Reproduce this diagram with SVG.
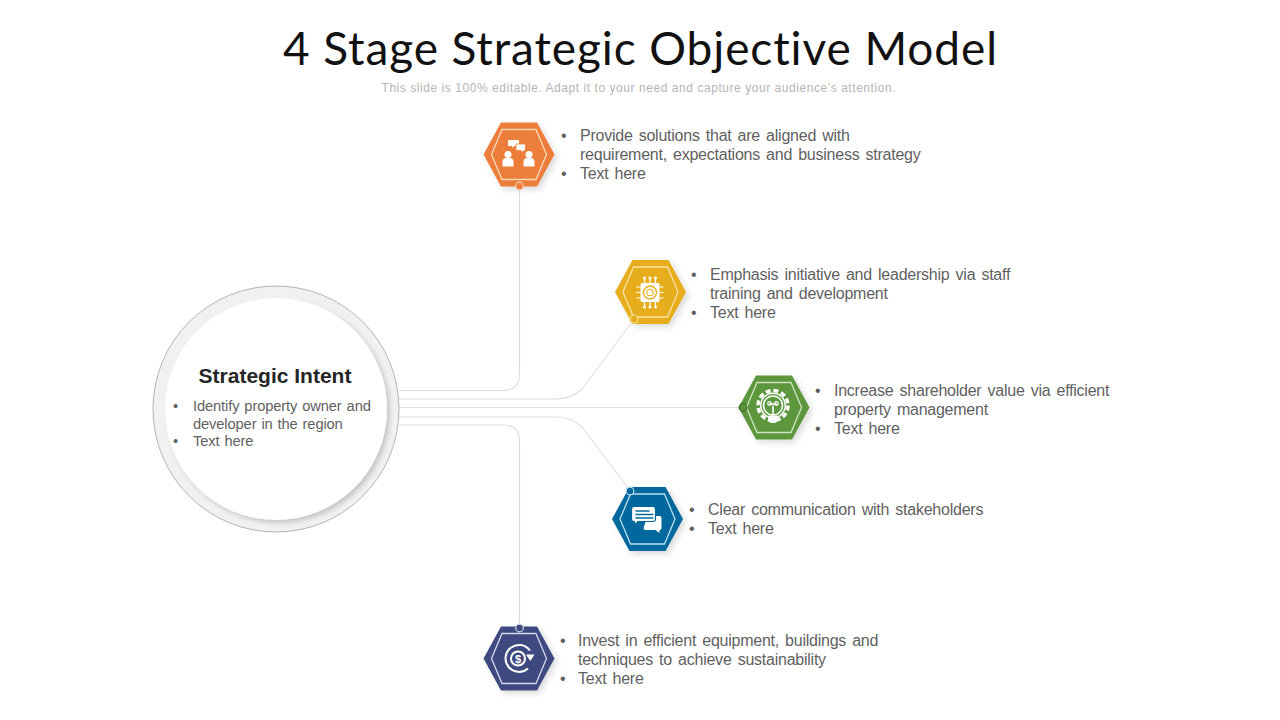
<svg xmlns="http://www.w3.org/2000/svg" width="1280" height="720" viewBox="0 0 1280 720">
<style>
text{font-family:"Liberation Sans",Arial,sans-serif}
.t{font-size:16px;fill:#5f5f5f;word-spacing:1.9px;letter-spacing:-.24px}
.c{font-size:14.7px;fill:#5f5f5f;word-spacing:1px;letter-spacing:-.12px}
.l{fill:none;stroke:#dedede;stroke-width:1.1}
.in{fill:none;stroke-width:1.3}
.w{fill:#fff}
.s{fill:none;stroke:#fff}
</style>
<defs>
<filter id="sh" x="-30%" y="-30%" width="170%" height="170%"><feDropShadow dx="3" dy="3" stdDeviation="3" flood-color="#000" flood-opacity=".14"/></filter>
<filter id="cs" x="-20%" y="-20%" width="140%" height="140%"><feDropShadow dx="3" dy="3" stdDeviation="2.500" flood-color="#000" flood-opacity=".18"/></filter>
<polygon id="hex" points="-35.500,0 -18,-32 18,-32 35.500,0 18,32 -18,32"/>
<polygon id="hexi" points="-27.500,0 -17,-25 17,-25 27.500,0 17,25 -17,25"/>
</defs>
<rect width="1280" height="720" fill="#fff"/>
<text id="title" x="640" y="65" text-anchor="middle" textLength="714" lengthAdjust="spacing" style="font-family:Lato,'Liberation Sans',sans-serif;font-size:46px;fill:#111;font-variant-ligatures:none">4 Stage Strategic Objective Model</text>
<text id="subtitle" x="638.500" y="92" text-anchor="middle" textLength="514" style="font-size:12px;fill:#b5b5b5">This slide is 100% editable. Adapt it to your need and capture your audience’s attention.</text>

<g id="connectors">
<path class="l" d="M399 390.500H503Q519.500 390.500 519.500 374V190"/>
<path class="l" d="M399 399H555Q572 399 582 389L632 322"/>
<path class="l" d="M399 407.500H740"/>
<path class="l" d="M399 417H555Q572 417 582 427L628 488"/>
<path class="l" d="M399 425H503Q519.500 425 519.500 441V624"/>
</g>

<g id="node-intent">
<circle cx="276" cy="409" r="123" fill="#f1f1f1" stroke="#b5b5b5" stroke-width="1"/>
<circle cx="276" cy="409" r="111" fill="#fff" filter="url(#cs)"/>
<text x="275" y="383" text-anchor="middle" style="font-size:21px;font-weight:700;fill:#262626">Strategic Intent</text>
<text class="c" x="173" y="411">•</text><text class="c" x="193" y="411">Identify property owner and</text>
<text class="c" x="193" y="429">developer in the region</text>
<text class="c" x="173" y="446">•</text><text class="c" x="193" y="446">Text here</text>
</g>

<g id="node-orange" transform="translate(519 154.500)">
<use href="#hex" fill="#ed7d3b" filter="url(#sh)"/>
<use href="#hexi" class="in" stroke="#fbd9b8"/>
<path class="w" d="M-11 -14.500h11v6h-5l-2 2v-2h-4z"/>
<path class="w" stroke="#ed7d3b" stroke-width=".8" d="M-3 -10.500h9.500v6.500h-1.500l-1 2l-2 -2h-5z"/>
<circle class="w" cx="-11" cy="0" r="3.500"/><path class="w" d="M-16.500 12v-5q0 -3 3 -3.500h5q3 .5 3 3.500v5z"/>
<circle class="w" cx="10" cy="0" r="3.500"/><path class="w" d="M4.500 12v-5q0 -3 3 -3.500h5q3 .5 3 3.500v5z"/>
<circle cx="0.500" cy="31.500" r="3.800" fill="#ed7d3b" stroke="#f8cfae" stroke-width="1.200"/>
</g>

<g id="node-yellow" transform="translate(650.500 292)">
<use href="#hex" fill="#e6ae1f" filter="url(#sh)"/>
<use href="#hexi" class="in" stroke="#f8e3a0"/>
<rect class="w" x="-10" y="-9" width="19" height="19" rx="1.500"/>
<circle cx="-.5" cy=".5" r="6.500" fill="none" stroke="#e6ae1f" stroke-width="1.400"/>
<circle cx="-.5" cy=".5" r="3.200" fill="none" stroke="#e6ae1f" stroke-width="1.100"/>
<path class="s" stroke-width="1.200" d="M-6 -9v-4M-.5 -9v-4M5 -9v-4M-6 10v4M-.5 10v4M5 10v4M-10 -5h-4M-10 .5h-4M-10 6h-4M9 -5h4M9 .5h4M9 6h4"/>
<circle class="w" cx="-6" cy="-14" r="1.500"/><circle class="w" cx="-.5" cy="-14" r="1.500"/><circle class="w" cx="5" cy="-14" r="1.500"/>
<circle class="w" cx="-6" cy="15" r="1.500"/><circle class="w" cx="-.5" cy="15" r="1.500"/><circle class="w" cx="5" cy="15" r="1.500"/>
<circle cx="-16.500" cy="27" r="4" fill="#e6ae1f" stroke="#f8e3a0" stroke-width="1.200"/>
</g>

<g id="node-green" transform="translate(774 407.500)">
<use href="#hex" fill="#5b973d" filter="url(#sh)"/>
<use href="#hexi" class="in" stroke="#cfe3c2"/>
<circle cx="-1" cy="-2" r="13" fill="#fff"/>
<circle cx="-1" cy="-2" r="15" fill="none" stroke="#fff" stroke-width="3.500" stroke-dasharray="5 2.850"/>
<circle cx="-1" cy="-2" r="11.500" fill="#5b973d"/>
<circle cx="-1" cy="-2" r="9.500" fill="#5b973d" stroke="#fff" stroke-width="1.600"/>
<path class="w" d="M-5.500 8h9v5l-2 2.500h-5l-2 -2.500z"/>
<path class="s" stroke-width="1.600" d="M-1 7v-9M-5 -3.500h8"/>
<circle class="s" cx="-4.500" cy="-4" r="1.800" stroke-width="1.200"/><circle class="s" cx="2.500" cy="-4" r="1.800" stroke-width="1.200"/>
<circle cx="-31" cy="0" r="3.800" fill="#5b973d" stroke="#3f7029" stroke-width="1.200"/>
</g>

<g id="node-blue" transform="translate(647.500 519)">
<use href="#hex" fill="#04689c" filter="url(#sh)"/>
<use href="#hexi" class="in" stroke="#b9dff0"/>
<path class="w" d="M0 -3h12q2 0 2 2v10q0 2 -2 2v3l-4 -3h-10q-2 0 -2 -2z"/>
<path d="M-13.500 -12.500h19q2.500 0 2.500 2.500v10q0 2.500 -2.500 2.500h-15l-3.500 3.500v-3.500h-.5q-2.500 0 -2.500 -2.500v-10q0 -2.500 2.500 -2.500z" class="w" stroke="#04689c" stroke-width="1.200"/>
<path d="M-12 -8h14M-12 -4.500h18M-12 -1h18" stroke="#04689c" stroke-width="1.300" fill="none"/>
<circle cx="-17.500" cy="-28" r="3.800" fill="#04689c" stroke="#b9dff0" stroke-width="1.200"/>
</g>

<g id="node-navy" transform="translate(519 658.500)">
<use href="#hex" fill="#3d4a7f" filter="url(#sh)"/>
<use href="#hexi" class="in" stroke="#d5d9ea"/>
<path class="s" stroke-width="2" d="M11 -8A13.500 13.500 0 1 0 9 10"/>
<path class="w" d="M7 -4h8.500l-4.200 6.500z"/>
<circle class="s" cx="-1" cy="0" r="7" stroke-width="2"/>
<text x="-1" y="4" text-anchor="middle" style="font-size:11px;font-weight:700;fill:#fff">$</text>
<circle cx="0.500" cy="-30.500" r="3.800" fill="#3d4a7f" stroke="#d5d9ea" stroke-width="1.200"/>
</g>

<g id="text-orange">
<text class="t" x="561" y="141">•</text><text class="t" x="580" y="141">Provide solutions that are aligned with</text>
<text class="t" x="580" y="160">requirement, expectations and business strategy</text>
<text class="t" x="561" y="179">•</text><text class="t" x="580" y="179">Text here</text>
</g>
<g id="text-yellow">
<text class="t" x="691" y="280">•</text><text class="t" x="710" y="280">Emphasis initiative and leadership via staff</text>
<text class="t" x="710" y="299">training and development</text>
<text class="t" x="691" y="318">•</text><text class="t" x="710" y="318">Text here</text>
</g>
<g id="text-green">
<text class="t" x="815" y="396">•</text><text class="t" x="834" y="396">Increase shareholder value via efficient</text>
<text class="t" x="834" y="415">property management</text>
<text class="t" x="815" y="434">•</text><text class="t" x="834" y="434">Text here</text>
</g>
<g id="text-blue">
<text class="t" x="689" y="515">•</text><text class="t" x="708" y="515">Clear communication with stakeholders</text>
<text class="t" x="689" y="534">•</text><text class="t" x="708" y="534">Text here</text>
</g>
<g id="text-navy">
<text class="t" x="560" y="646">•</text><text class="t" x="578" y="646">Invest in efficient equipment, buildings and</text>
<text class="t" x="578" y="665">techniques to achieve sustainability</text>
<text class="t" x="560" y="684">•</text><text class="t" x="578" y="684">Text here</text>
</g>
</svg>
